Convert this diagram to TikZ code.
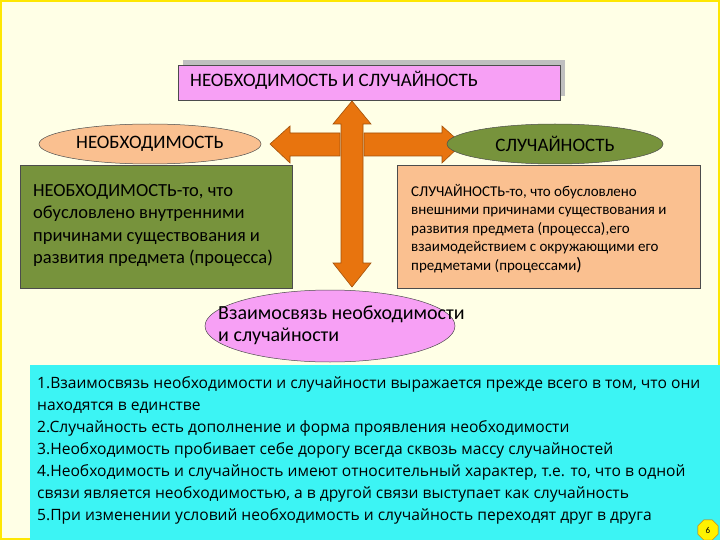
\documentclass[tikz,border=0pt]{standalone}
\usepackage{fontspec}
\setmainfont{Carlito}
\newfontfamily\bodyfont{Open Sans}
\usetikzlibrary{shapes.geometric}
\definecolor{bg}{HTML}{FFFFE6}
\definecolor{pinkv}{HTML}{F7A0F5}
\definecolor{peach}{HTML}{FAC090}
\definecolor{olive}{HTML}{77933C}
\definecolor{cyanb}{HTML}{3CF4F4}
\definecolor{orng}{HTML}{E8740E}
\tikzset{
  bx/.style={draw=black!70, line width=0.5pt},
  el/.style={ellipse, draw=black!70, line width=0.5pt, inner sep=0pt},
  arr/.style={fill=orng, draw=orng!70!black, line width=0.6pt, line join=miter},
  txt/.style={align=left, anchor=north west, inner sep=0pt}
}
\begin{document}
\begin{tikzpicture}[x=1pt,y=-1pt]
\useasboundingbox (0,0) rectangle (720,540);
\fill[bg] (0,0) rectangle (720,540);
\draw[yellow!90!orange, line width=2pt] (1,1) rectangle (719,539);
% top box
\fill[black!25] (183,60) rectangle (565,96);
\node[bx, fill=pinkv, minimum width=382pt, minimum height=35pt, anchor=north west, inner sep=0pt] (top) at (178,65) {};
\node[anchor=west, inner sep=0pt, font=\fontsize{19}{20}\selectfont] (toptext) at (190,80) {НЕОБХОДИМОСТЬ И СЛУЧАЙНОСТЬ};
% arrows
\draw[arr] (270,144) -- (290,126) -- (290,133) -- (340,133) -- (340,156) -- (290,156) -- (290,163) -- cycle;
\draw[arr] (462,144) -- (442,126) -- (442,133) -- (364,133) -- (364,156) -- (442,156) -- (442,163) -- cycle;
\draw[arr] (352,101) -- (371,124) -- (363,124) -- (363,263) -- (371,263) -- (352,287) -- (333,263) -- (341,263) -- (341,124) -- (333,124) -- cycle;
% ellipses
\node[el, fill=peach, minimum width=222pt, minimum height=40pt, font=\fontsize{19}{20}\selectfont] (nec) at (150,144) {НЕОБХОДИМОСТЬ};
\node[el, fill=olive, minimum width=216pt, minimum height=40pt, font=\fontsize{19}{20}\selectfont] (chance) at (555,144) {СЛУЧАЙНОСТЬ};
% boxes
\node[bx, fill=olive, minimum width=272pt, minimum height=123pt, anchor=north west, inner sep=0pt] (lbox) at (20,165) {};
\node[txt, font=\fontsize{18.5}{22.5}\selectfont] (ltext) at (33,184) {НЕОБХОДИМОСТЬ-то, что\\обусловлено внутренними\\причинами существования и\\развития предмета (процесса)};
\node[bx, fill=peach, minimum width=303pt, minimum height=123pt, anchor=north west, inner sep=0pt] (rbox) at (397,165) {};
\node[txt, font=\fontsize{15}{18.5}\selectfont] (rtext) at (411,184) {СЛУЧАЙНОСТЬ-то, что обусловлено\\внешними причинами существования и\\развития предмета (процесса),его\\взаимодействием с окружающими его\\предметами (процессами{\fontsize{18}{18}\selectfont)}};
% bottom ellipse
\node[el, fill=pinkv, minimum width=250pt, minimum height=72pt] (link) at (330,326) {};
\node[txt, font=\fontsize{20}{22}\selectfont] (linktext) at (218,306) {Взаимосвязь необходимости\\и случайности};
% cyan box
\node[fill=cyanb, minimum width=690pt, minimum height=175pt, anchor=north west, inner sep=0pt] (cbox) at (30,365) {};
\node[txt, font=\bodyfont\fontsize{15.6}{22}\selectfont] (ctext) at (37,376) {1.Взаимосвязь необходимости и случайности выражается прежде всего в том, что они\\находятся в единстве\\2.Случайность есть дополнение и форма проявления необходимости\\3.Необходимость пробивает себе дорогу всегда сквозь массу случайностей\\4.Необходимость и случайность имеют относительный характер, т.е. то, что в одной\\связи является необходимостью, а в другой связи выступает как случайность\\5.При изменении условий необходимость и случайность переходят друг в друга};
\node[regular polygon, regular polygon sides=8, fill=yellow, draw=orange!80!black, minimum size=22pt, inner sep=0pt, font=\fontsize{9}{9}\selectfont] (pg) at (708,530) {6};
\end{tikzpicture}
\end{document}
